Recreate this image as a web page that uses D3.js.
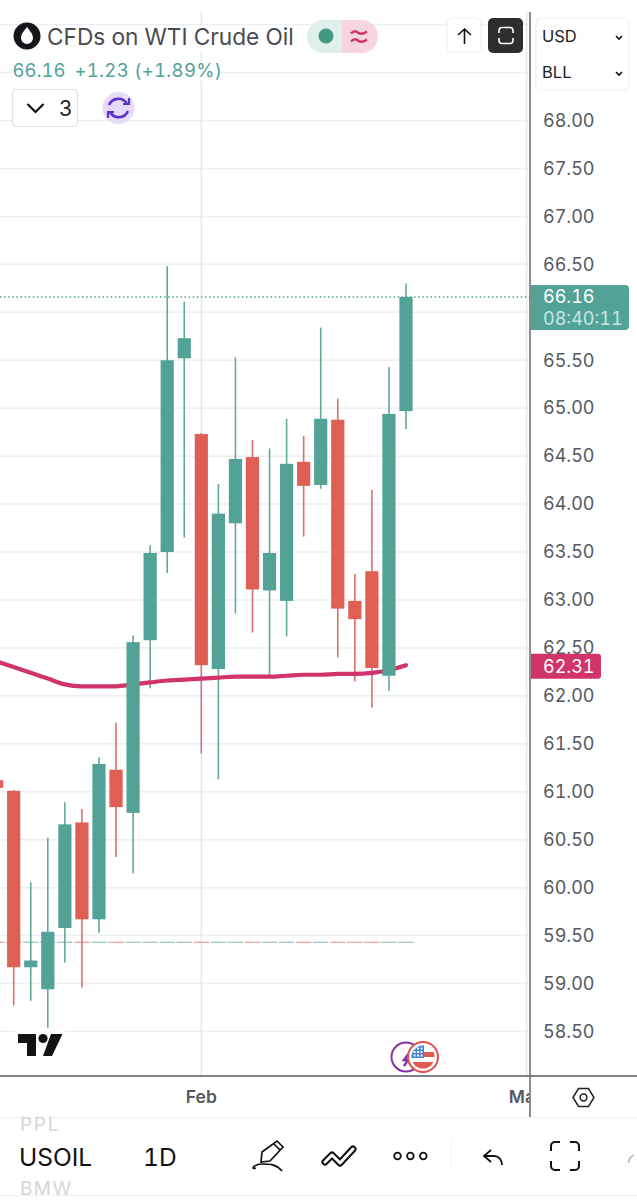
<!DOCTYPE html>
<html>
<head>
<meta charset="utf-8">
<title>USOIL</title>
<script src="https://cdn.jsdelivr.net/npm/d3@7"></script>
<style>
html,body{margin:0;padding:0;background:#fff;}
#chartDiv{width:637px;height:1200px;overflow:hidden;}
text{font-family:Inter,"Noto Sans",sans-serif;font-variant-numeric:tabular-nums;}
</style>
</head>
<body>
<div id="chartDiv"></div>
<script>
// candles, left to right. first one is cut off by the edge of the screen
var opens  = [61.12,61.01,59.17,58.94,59.58,60.68,59.67,61.23,60.78,62.58,63.50,65.52,64.73,62.28,63.80,64.49,63.10,62.99,64.44,64.20,64.88,62.99,63.30,62.21,64.97];
var highs  = [61.12,61.02,60.06,60.52,60.89,60.82,61.36,61.72,62.63,63.57,66.48,66.11,64.74,64.21,65.53,64.67,64.58,64.89,64.71,65.84,65.10,63.27,64.15,65.43,66.30];
var lows   = [61.04,58.77,58.82,58.54,59.22,58.96,59.53,60.32,60.15,62.08,63.28,63.65,61.40,61.13,62.86,62.66,62.22,62.62,63.66,64.16,62.40,62.15,61.88,62.05,64.78];
var closes = [61.04,59.17,59.24,59.54,60.66,59.67,61.29,60.84,62.56,63.49,65.50,65.73,62.32,63.90,64.47,63.11,63.49,64.42,64.19,64.89,62.91,62.80,62.29,64.94,66.16];
var maLine = [62.36,62.30,62.24,62.18,62.12,62.10,62.10,62.10,62.12,62.14,62.16,62.17,62.18,62.19,62.20,62.20,62.20,62.21,62.22,62.22,62.23,62.23,62.24,62.27,62.32];

// 66.00 sits behind the last price tag so it is left out
var priceTicks = [58.5,59,59.5,60,60.5,61,61.5,62,62.5,63,63.5,64,64.5,65,65.5,66.5,67,67.5,68];
var gridPrices = [58.5,59,59.5,60,60.5,61,61.5,62,62.5,63,63.5,64,64.5,65,65.5,66,66.5,67,67.5,68,68.5,69];
var dateTicks = [12,31];
var dateLabels = ["Feb","Mar"];
var lastPrice = 66.16;
var maLast = 62.31;
var markerPrice = 59.43;

var green = "#52a297", red = "#e05f55", pink = "#d1346b";
var inkGrey = "#55585f";

var svg = d3.select("#chartDiv").append("svg").attr("width",637).attr("height",1200);

var xScale = d3.scaleLinear().domain([1,24]).range([13.7,406]);
var yScale = d3.scaleLinear().domain([58.5,68]).range([1031.5,120.5]);

var candles = opens.map((d,i) => ({i:i,open:d,high:highs[i],low:lows[i],close:closes[i],up:closes[i] >= d}));

var defs = svg.append("defs");
defs.append("clipPath").attr("id","paneClip").append("rect").attr("x",0).attr("y",0).attr("width",530).attr("height",1076);

drawGrid();
drawMarkers();
drawWicks();
drawMa();
drawBodies();
drawLogos();
drawAxes();
drawTags();
drawLegend();
drawTopButtons();
drawBottomBar();

function drawGrid(){
    var pane = svg.append("g").attr("clip-path","url(#paneClip)");
    pane.selectAll(".hGrid").data(gridPrices).join("line")
        .attr("class","hGrid")
        .attr("x1",0).attr("x2",528)
        .attr("y1",d => yScale(d)).attr("y2",d => yScale(d))
        .attr("stroke","#eceef3").attr("stroke-width",1.5);
    pane.selectAll(".vGrid").data(dateTicks).join("line")
        .attr("class","vGrid")
        .attr("x1",d => xScale(d) + (d === 31 ? 1.3 : 0)).attr("x2",d => xScale(d) + (d === 31 ? 1.3 : 0))
        .attr("y1",12).attr("y2",1076)
        .attr("stroke","#e4e6f0").attr("stroke-width",1.3);
    // last price dots
    pane.append("line")
        .attr("x1",0).attr("x2",530)
        .attr("y1",yScale(lastPrice)).attr("y2",yScale(lastPrice))
        .attr("stroke",green).attr("stroke-width",1.4).attr("stroke-dasharray","1.5 2.6");
}

function drawMarkers(){
    // little dashes along the bottom, one per candle
    svg.append("g").selectAll("line").data(candles).join("line")
        .attr("x1",d => xScale(d.i) - 7.7).attr("x2",d => xScale(d.i) + 7.7)
        .attr("y1",yScale(markerPrice)).attr("y2",yScale(markerPrice))
        .attr("stroke",d => d.up ? "#9fcdc7" : "#eea8a2")
        .attr("stroke-width",1.4);
}

function drawWicks(){
    svg.append("g").attr("clip-path","url(#paneClip)")
        .selectAll(".wick").data(candles).join("line")
        .attr("class","wick")
        .attr("x1",d => xScale(d.i)).attr("x2",d => xScale(d.i))
        .attr("y1",d => yScale(d.high)).attr("y2",d => yScale(d.low))
        .attr("stroke",d => d.up ? "#62a89e" : "#d9706a")
        .attr("stroke-width",1.6);
}

function drawBodies(){
    svg.append("g").attr("clip-path","url(#paneClip)")
        .selectAll(".body").data(candles).join("rect")
        .attr("class","body")
        .attr("x",d => xScale(d.i) - 6.6)
        .attr("width",13.2)
        .attr("y",d => yScale(Math.max(d.open,d.close)))
        .attr("height",d => Math.abs(yScale(d.open) - yScale(d.close)))
        .attr("fill",d => d.up ? green : red);
}

function drawMa(){
    var line = d3.line()
        .x((d,i) => xScale(i))
        .y(d => yScale(d))
        .curve(d3.curveMonotoneX);
    svg.append("path").datum(maLine)
        .attr("d",line)
        .attr("clip-path","url(#paneClip)")
        .attr("fill","none").attr("stroke",pink).attr("stroke-width",4.2).attr("stroke-linecap","round");
}

function drawLogos(){
    // tradingview mark
    var tv = svg.append("g").attr("transform","translate(18,1033)");
    tv.append("rect").attr("x",-3).attr("y",-3).attr("width",50).attr("height",29).attr("fill","#fff");
    tv.append("path").attr("d","M0 1H18V23H9V10H0Z").attr("fill","#131313");
    tv.append("circle").attr("cx",25).attr("cy",5.5).attr("r",4.6).attr("fill","#131313");
    tv.append("path").attr("d","M33 1H44.5L34 23H25Z").attr("fill","#131313");

    // news + economic event bubbles
    var ev = svg.append("g").attr("transform","translate(0,1057)");
    ev.append("circle").attr("cx",406).attr("cy",0).attr("r",14.5).attr("fill","#fff").attr("stroke","#8430a8").attr("stroke-width",2);
    ev.append("path").attr("d","M412 -8L404 3H408L404 9").attr("fill","none").attr("stroke","#8430a8").attr("stroke-width",2.4);
    ev.append("circle").attr("cx",423).attr("cy",0).attr("r",15).attr("fill","#fff").attr("stroke","#df4d4d").attr("stroke-width",2);
    var flag = ev.append("g");
    flag.append("clipPath").attr("id","flagClip").append("circle").attr("cx",423).attr("cy",0).attr("r",11.5);
    var f = flag.append("g").attr("clip-path","url(#flagClip)");
    f.append("rect").attr("x",411).attr("y",-12).attr("width",24).attr("height",24).attr("fill","#fff");
    f.append("rect").attr("x",424).attr("y",-5).attr("width",12).attr("height",5).attr("fill","#df5a50");
    f.append("rect").attr("x",411).attr("y",5).attr("width",24).attr("height",7).attr("fill","#df5a50");
    f.append("rect").attr("x",411).attr("y",-12).attr("width",13).attr("height",13).attr("fill","#3f82d8");
    [414.5,418,421.5].forEach(function(cx){
        [-8.5,-5,-1.5].forEach(function(cy){
            f.append("rect").attr("x",cx-1).attr("y",cy-1).attr("width",2).attr("height",2).attr("fill","#fff");
        });
    });
}

function drawAxes(){
    // frame lines
    svg.append("line").attr("x1",0).attr("x2",637).attr("y1",1076).attr("y2",1076).attr("stroke","#55585c").attr("stroke-width",1.6);

    var yAxis = d3.axisRight(yScale)
        .tickValues(priceTicks)
        .tickSize(0)
        .tickPadding(13)
        .tickFormat(d3.format(".2f"));
    var yG = svg.append("g").attr("transform","translate(530,0)").call(yAxis);
    yG.select(".domain").remove();
    yG.selectAll("text")
        .attr("font-size",18).attr("fill",inkGrey)
        .style("font-family","Inter,sans-serif");

    defs.append("clipPath").attr("id","timeClip").append("rect").attr("x",0).attr("y",-15).attr("width",530).attr("height",41);
    var xAxis = d3.axisBottom(xScale)
        .tickValues(dateTicks)
        .tickSize(0)
        .tickPadding(0)
        .tickFormat((d,i) => dateLabels[i]);
    var xG = svg.append("g").attr("transform","translate(-0.5,1091)").attr("clip-path","url(#timeClip)").call(xAxis);
    xG.select(".domain").remove();
    xG.selectAll("text")
        .attr("font-size",17.5).attr("font-weight",600).attr("fill",inkGrey)
        .style("font-family","Inter,sans-serif");

    svg.append("line").attr("x1",530).attr("x2",530).attr("y1",12).attr("y2",1117).attr("stroke","#6e7074").attr("stroke-width",1.6);

    // settings hexagon
    var hex = svg.append("g").attr("transform","translate(583.5,1097.5)");
    hex.append("path").attr("d","M-10.5 0L-5 -9H5L10.5 0L5 9H-5Z").attr("fill","none").attr("stroke","#222").attr("stroke-width",1.5);
    hex.append("circle").attr("r",3.4).attr("fill","none").attr("stroke","#222").attr("stroke-width",1.5);
}

function drawTags(){
    var y1 = yScale(lastPrice);
    svg.append("path").attr("d","M531 "+(y1-12)+"H625a4 4 0 0 1 4 4V"+(y1+29)+"a4 4 0 0 1 -4 4H531Z").attr("fill",green);
    svg.append("text").attr("x",543).attr("y",y1+6).attr("font-size",18).attr("fill","#fff").text(d3.format(".2f")(lastPrice));
    svg.append("text").attr("x",543).attr("y",y1+28).attr("font-size",18).attr("fill","#cbe6e2").text("08:40:11");

    var y2 = yScale(maLast);
    svg.append("path").attr("d","M531 "+(y2-12.5)+"H598a3 3 0 0 1 3 3V"+(y2+9.5)+"a3 3 0 0 1 -3 3H531Z").attr("fill",pink);
    svg.append("text").attr("x",543).attr("y",y2+7).attr("font-size",18).attr("fill","#fff").text(d3.format(".2f")(maLast));
}

function drawLegend(){
    // white backing so the grid does not run through the text
    svg.append("rect").attr("x",10).attr("y",26).attr("width",300).attr("height",26).attr("fill","#fff");
    svg.append("rect").attr("x",12).attr("y",61).attr("width",209).attr("height",20).attr("fill","#fff");

    svg.append("circle").attr("cx",27).attr("cy",36).attr("r",13.5).attr("fill","#14161a");
    svg.append("path").attr("d","M27 27C24 31 21 34 21 38A6 6 0 0 0 33 38C33 34 30 31 27 27Z").attr("fill","#fff");

    svg.append("text").attr("x",47).attr("y",45).attr("font-size",22.7).attr("fill","#4a4c52").text("CFDs on WTI Crude Oil");
    svg.append("text").attr("x",12.5).attr("y",77).attr("font-size",18.5).attr("fill",green).text("66.16");
    svg.append("text").attr("x",74.5).attr("y",77).attr("font-size",18.5).attr("fill",green).attr("letter-spacing",0.3).text("+1.23 (+1.89%)");

    // status pill
    svg.append("path").attr("d","M323.5 20H342V53H323.5A16.5 16.5 0 0 1 323.5 20Z").attr("fill","#dfefec");
    svg.append("path").attr("d","M342 20H361.5A16.5 16.5 0 0 1 361.5 53H342Z").attr("fill","#f6d5e1");
    svg.append("circle").attr("cx",326).attr("cy",36).attr("r",7.5).attr("fill","#3f9a80");
    svg.append("path").attr("d","M351 33.5Q354.5 29.5 358 32.5T367 31.5M351 41.5Q354.5 37.5 358 40.5T367 39.5")
        .attr("fill","none").attr("stroke",pink).attr("stroke-width",2.4);

    // collapse button
    svg.append("rect").attr("x",12.5).attr("y",89.5).attr("width",65).attr("height",37).attr("rx",4)
        .attr("fill","#fff").attr("stroke","#dfe0e3").attr("stroke-width",1.2);
    svg.append("path").attr("d","M27.5 104L35.5 112L43.5 104").attr("fill","none").attr("stroke","#111").attr("stroke-width",2.2);
    svg.append("text").attr("x",59).attr("y",115.5).attr("font-size",21).attr("fill","#222").text("3");

    // refresh
    svg.append("circle").attr("cx",118.5).attr("cy",108).attr("r",16).attr("fill","#e6dcfa");
    svg.append("path").attr("d","M109 105A10 10 0 0 1 127 104M128 111A10 10 0 0 1 110 112")
        .attr("fill","none").attr("stroke","#5a34c8").attr("stroke-width",2.6);
    svg.append("path").attr("d","M123 104H129V98M114 112H108V118").attr("fill","none").attr("stroke","#5a34c8").attr("stroke-width",2.2);
}

function drawTopButtons(){
    svg.append("rect").attr("x",447).attr("y",18).attr("width",34).attr("height",34).attr("rx",5)
        .attr("fill","#fff").attr("stroke","#eeeff1").attr("stroke-width",1.2);
    svg.append("path").attr("d","M464.5 44V29M458 35L464.5 29L471 35").attr("fill","none").attr("stroke","#111").attr("stroke-width",1.6);

    svg.append("rect").attr("x",488).attr("y",18).attr("width",35).attr("height",35).attr("rx",5).attr("fill","#2e2e2e");
    svg.append("path").attr("d","M499 33V30.5A3 3 0 0 1 502 27.5H510A3 3 0 0 1 513 30.5V33M499 38V40.5A3 3 0 0 0 502 43.5H510A3 3 0 0 0 513 40.5V38")
        .attr("fill","none").attr("stroke","#fff").attr("stroke-width",1.6);

    svg.append("rect").attr("x",536).attr("y",18).attr("width",93).attr("height",72).attr("rx",5)
        .attr("fill","#fff").attr("stroke","#eeeff1").attr("stroke-width",1.2);
    svg.append("text").attr("x",542).attr("y",42).attr("font-size",16.5).attr("fill","#222").text("USD");
    svg.append("text").attr("x",542).attr("y",78).attr("font-size",16.5).attr("fill","#222").text("BLL");
    svg.append("path").attr("d","M616 36L619 39L622 36M616 72L619 75L622 72").attr("fill","none").attr("stroke","#111").attr("stroke-width",1.6);
}

function drawBottomBar(){
    svg.append("line").attr("x1",0).attr("x2",637).attr("y1",1117.5).attr("y2",1117.5).attr("stroke","#f2f2f2");
    svg.append("line").attr("x1",0).attr("x2",637).attr("y1",1195.5).attr("y2",1195.5).attr("stroke","#f2f2f2");
    svg.append("text").attr("x",20).attr("y",1131).attr("font-size",19).attr("letter-spacing",1.7).attr("fill","#d6d6d6").text("PPL");
    svg.append("text").attr("x",20).attr("y",1195).attr("font-size",19).attr("letter-spacing",1.4).attr("fill","#d6d6d6").text("BMW");
    svg.append("text").attr("x",19).attr("y",1166).attr("font-size",24.5).attr("fill","#111").text("USOIL");
    svg.append("text").attr("x",143).attr("y",1166).attr("font-size",24.5).attr("fill","#111").text("1D");

    // pen
    svg.append("path").attr("d","M262 1152L277 1141L283 1147L270 1161L261 1162ZM274 1144L280 1150")
        .attr("fill","none").attr("stroke","#111").attr("stroke-width",1.7);
    svg.append("path").attr("d","M256 1168C250 1170 254 1164 262 1164C270 1164 276 1164 282 1171")
        .attr("fill","none").attr("stroke","#111").attr("stroke-width",1.7);
    // trend, dark stroke with a white one on top to get the outlined look
    svg.append("path").attr("d","M325 1162L332 1155L340 1163L353 1149")
        .attr("fill","none").attr("stroke","#111").attr("stroke-width",7).attr("stroke-linecap","round").attr("stroke-linejoin","round");
    svg.append("path").attr("d","M325 1162L332 1155L340 1163L353 1149")
        .attr("fill","none").attr("stroke","#fff").attr("stroke-width",3).attr("stroke-linecap","round").attr("stroke-linejoin","round");
    // dots
    svg.selectAll(".moreDot").data([0,1,2]).join("circle").attr("class","moreDot")
        .attr("cx",d => 397.5 + d*12.9).attr("cy",1156).attr("r",3.3)
        .attr("fill","none").attr("stroke","#111").attr("stroke-width",1.8);
    svg.append("line").attr("x1",451.5).attr("x2",451.5).attr("y1",1140).attr("y2",1168).attr("stroke","#f2f2f2");
    // undo
    svg.append("path").attr("d","M491 1150L484 1156L491 1162M484 1156H494C499 1156 502 1160 502 1165")
        .attr("fill","none").attr("stroke","#111").attr("stroke-width",1.8);
    // fullscreen corners
    svg.append("path").attr("d","M551 1151V1146A4 4 0 0 1 555 1142H560M570 1142H575A4 4 0 0 1 579 1146V1151M579 1161V1166A4 4 0 0 1 575 1170H570M560 1170H555A4 4 0 0 1 551 1166V1161")
        .attr("fill","none").attr("stroke","#111").attr("stroke-width",2);
    svg.append("path").attr("d","M628.5 1163A9 9 0 0 1 634 1155").attr("fill","none").attr("stroke","#bbb").attr("stroke-width",1.8);
}
</script>
</body>
</html>
